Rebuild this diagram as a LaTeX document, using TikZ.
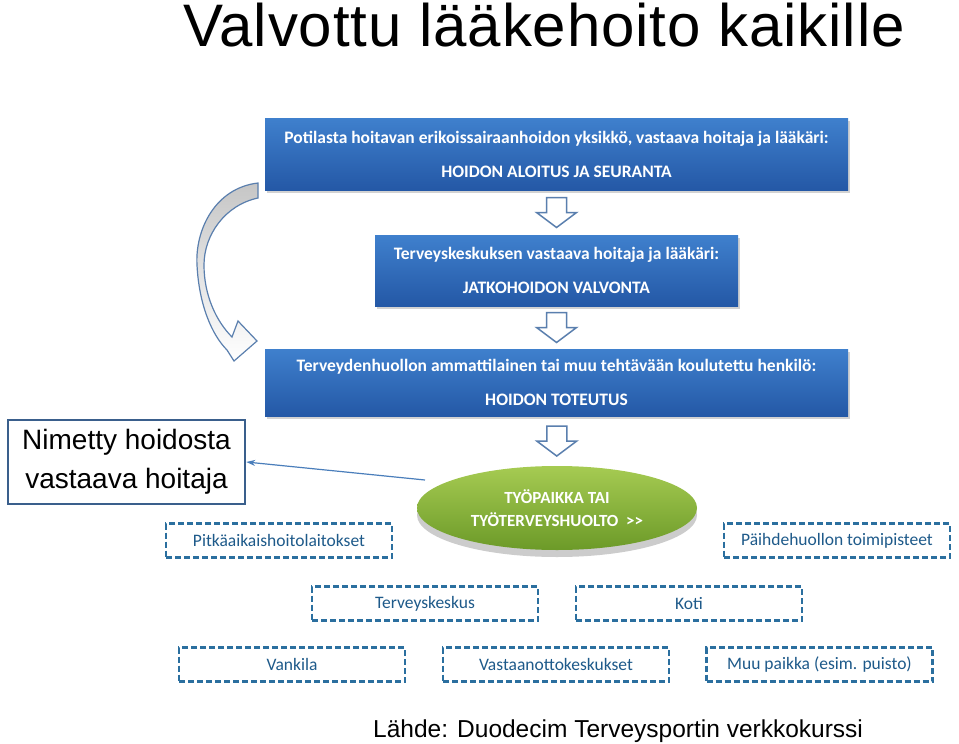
\documentclass[tikz,border=0pt]{standalone}
\usepackage{fontspec}
\setmainfont{Liberation Sans}
\newfontfamily\calibri{Carlito}
\newfontfamily\titlefont[LetterSpace=1.5]{Liberation Sans}
\usetikzlibrary{calc,shadows,arrows.meta,shapes.geometric}
\definecolor{boxtop}{HTML}{3F80CD}
\definecolor{boxbottom}{HTML}{2458A6}
\definecolor{arrowline}{HTML}{5A7FAE}
\definecolor{dashblue}{HTML}{2B6F9F}
\definecolor{dashtext}{HTML}{1E5A8A}
\definecolor{leaftop}{HTML}{A6CB52}
\definecolor{leafbottom}{HTML}{6C9A28}
\definecolor{namedline}{HTML}{3A5F8C}
\definecolor{pointer}{HTML}{4A7EBB}
\tikzstyle{stepbox}=[rectangle, top color=boxtop, bottom color=boxbottom, text=white, inner sep=0pt,
  font=\calibri\bfseries\fontsize{17.5}{34}\selectfont, align=center,
  drop shadow={opacity=0.35,shadow xshift=1.5pt,shadow yshift=-2.5pt}]
\tikzstyle{placebox}=[rectangle, draw=dashblue, line width=2.6pt, dash pattern=on 6pt off 3pt, text=dashtext,
  font=\calibri\fontsize{17.5}{20}\selectfont, minimum width=226, minimum height=34, inner sep=0pt]
\tikzstyle{hollowarrow}=[draw=arrowline, fill=white, line width=1.5pt, line join=miter]
\newcommand{\blockarrow}[2]{% hollow down arrow between two nodes
  \draw[hollowarrow] ($(#1.south)!0.5!(#2.north)$) ++(-10,-15) -- ++(0,15) -- ++(-10,0) -- ++(20,15)
    -- ++(20,-15) -- ++(-10,0) -- ++(0,-15) -- cycle;
}

\begin{document}
\begin{tikzpicture}[x=1pt,y=-1pt]
	\useasboundingbox[fill=white] (0,0) rectangle (959,744);
	% title
	\node[font=\titlefont\fontsize{60}{60}\selectfont, anchor=base, inner sep=0pt] (title) at (544,46) {Valvottu lääkehoito kaikille};
	% chain of care
	\node[stepbox, minimum width=583, minimum height=72] (start) at (556.5,154)
		{Potilasta hoitavan erikoissairaanhoidon yksikkö, vastaava hoitaja ja lääkäri:\\HOIDON ALOITUS JA SEURANTA};
	\node[stepbox, minimum width=363, minimum height=71] (follow) at (556.5,270.5)
		{Terveyskeskuksen vastaava hoitaja ja lääkäri:\\JATKOHOIDON VALVONTA};
	\node[stepbox, minimum width=583, minimum height=67] (care) at (556.5,382.5)
		{Terveydenhuollon ammattilainen tai muu tehtävään koulutettu henkilö:\\HOIDON TOTEUTUS};
	\node[ellipse, minimum width=280, minimum height=84, inner sep=0pt, top color=leaftop, bottom color=leafbottom,
		drop shadow={opacity=0.4,shadow xshift=0pt,shadow yshift=-7pt}, text=white, align=center,
		font=\calibri\bfseries\fontsize{17}{23}\selectfont] (work) at (557,508)
		{TYÖPAIKKA TAI\\TYÖTERVEYSHUOLTO\ \ >>};
	\blockarrow{start}{follow}
	\blockarrow{follow}{care}
	\blockarrow{care}{work}
	% curved return arrow
	\shade[top color=gray!45, bottom color=white, draw=arrowline, line width=1.2pt, line join=miter]
		(258,183) .. controls (215,188) and (195,230) .. (197,265) .. controls (199,305) and (212,335) .. (227,350)
		-- (234,361) -- (257,341) -- (238,321) -- (232,337)
		.. controls (216,321) and (204,295) .. (204,265) .. controls (204,235) and (225,205) .. (258,198) -- cycle;
	% named nurse
	\node[draw=namedline, line width=2.5pt, minimum width=237, minimum height=84, align=center, inner sep=0pt,
		font=\fontsize{28}{39}\selectfont] (named) at (126.5,462) {Nimetty hoidosta\\vastaava hoitaja};
	\coordinate (ptr) at (425,480);
	\draw[pointer, line width=1.2pt, -{Stealth[length=9pt,width=6pt]}] (ptr) -- (named.east);
	% places
	\node[placebox] (longterm) at (279,540.5) {Pitkäaikaishoitolaitokset};
	\node[placebox] (substance) at (837,540.5) {Päihdehuollon toimipisteet};
	\node[placebox] (centre) at (425,603.5) {Terveyskeskus};
	\node[placebox] (home) at (689,603.5) {Koti};
	\node[placebox] (prison) at (292,664.5) {Vankila};
	\node[placebox] (reception) at (556,664.5) {Vastaanottokeskukset};
	\node[placebox] (other) at (819.5,664.5) {Muu paikka (esim. puisto)};
	% source
	\node[font=\fontsize{24.5}{26}\selectfont, anchor=base west, inner sep=0pt] (source) at (373,737)
		{Lähde: Duodecim Terveysportin verkkokurssi};
\end{tikzpicture}
\end{document}
